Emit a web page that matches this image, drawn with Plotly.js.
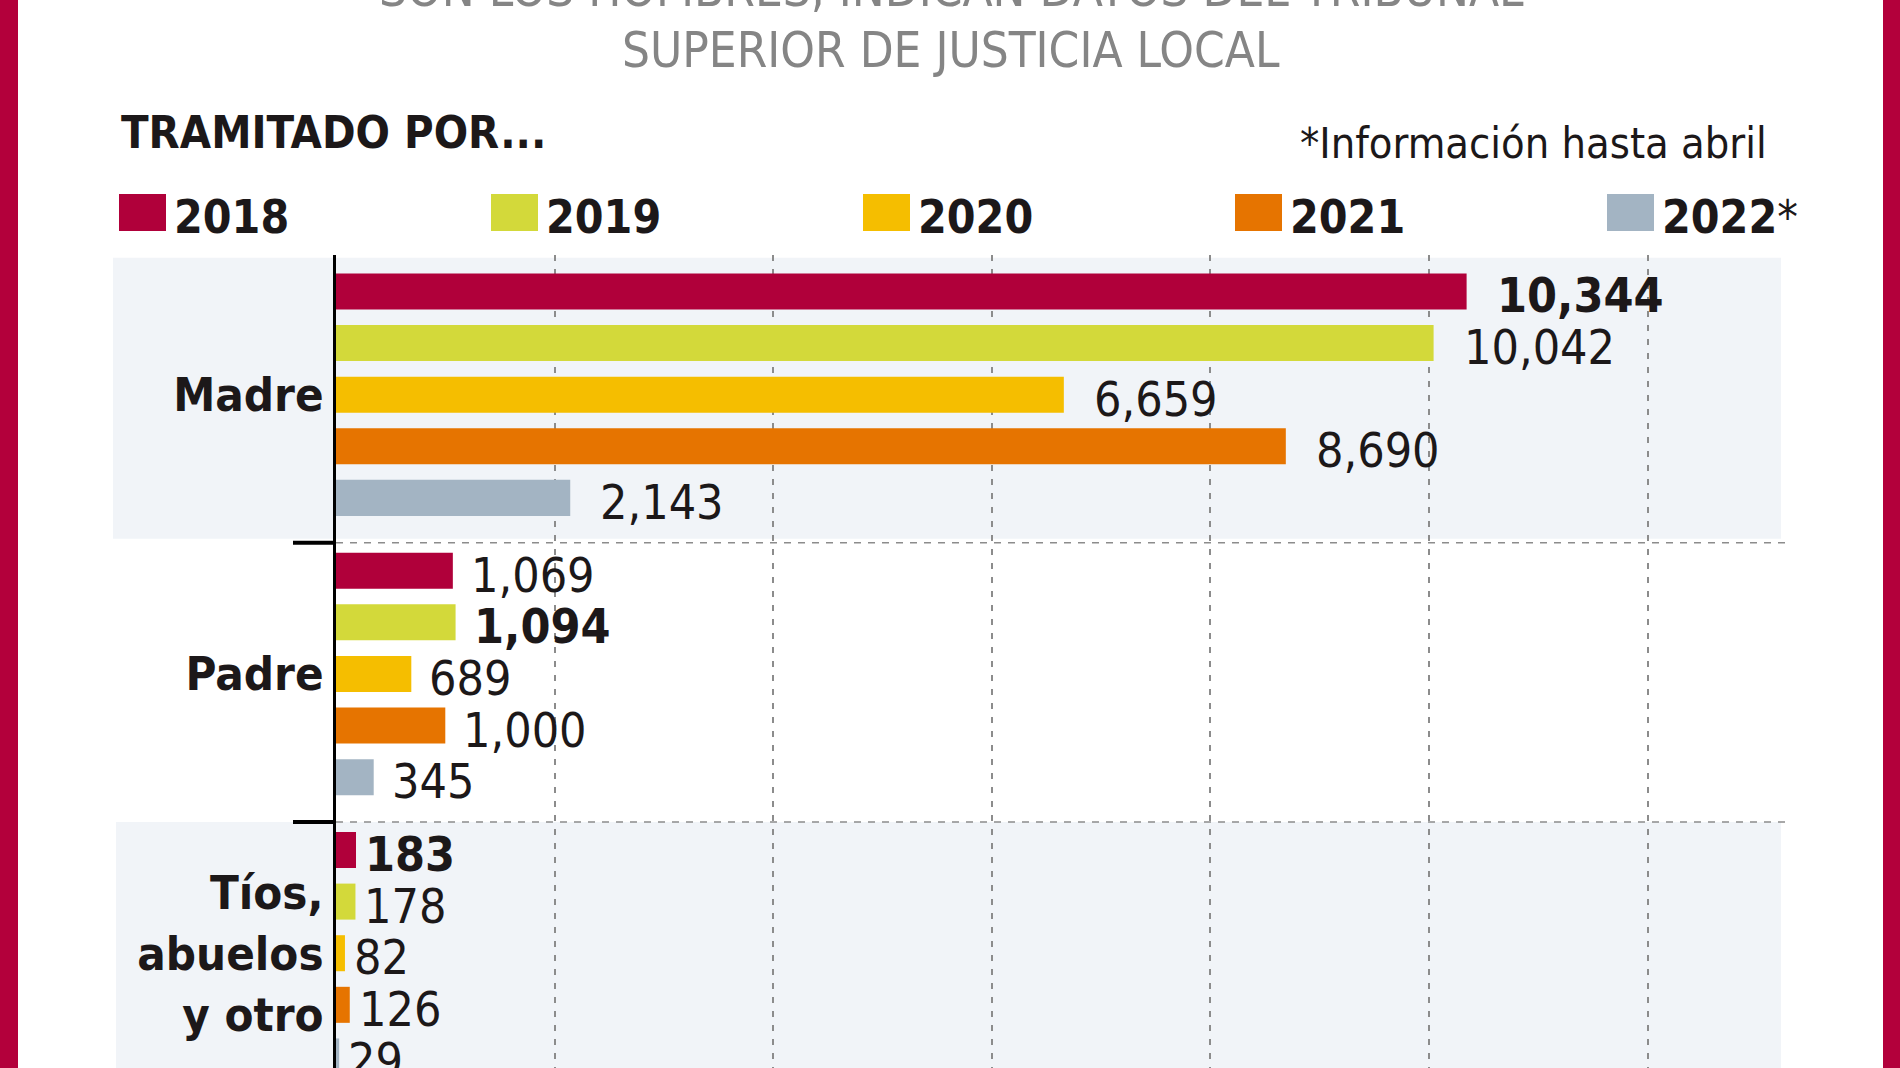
<!DOCTYPE html>
<html>
<head>
<meta charset="utf-8">
<script src="https://cdn.plot.ly/plotly-3.0.1.min.js"></script>
<style>
  html, body { margin: 0; padding: 0; background: #ffffff; }
  #chart { width: 1900px; height: 1068px; }
</style>
</head>
<body>
<div id="chart"></div>
<script>
// ---------------- DATA ----------------
const categories = ['Madre', 'Padre', 'Tíos,<br>abuelos<br>y otro'];
const yearLabels = ['2018', '2019', '2020', '2021', '2022*'];
const v2018 = [10344, 1069, 183];
const v2019 = [10042, 1094, 178];
const v2020 = [6659, 689, 82];
const v2021 = [8690, 1000, 126];
const v2022 = [2143, 345, 29];
const seriesValues = [v2018, v2019, v2020, v2021, v2022];
const titleLine1 = 'SON LOS HOMBRES, INDICAN DATOS DEL TRIBUNAL';
const titleLine2 = 'SUPERIOR DE JUSTICIA LOCAL';
const subtitleText = 'TRAMITADO POR...';
const noteText = '*Información hasta abril';

// ---------------- STYLE ----------------
const colors = ['#b0003a', '#d3d93a', '#f5be00', '#e67400', '#a3b4c3'];
const FONT = '"DejaVu Sans Condensed", "DejaVu Sans", sans-serif';
const INK = '#1c1819';
const GRID = '#8c8c8c';
const BAND = '#f1f4f8';
const BORDER = '#b3003b';
const W = 1900, H = 1068;
const M = { l: 336, r: 115, t: 255, b: 0 };
const PW = W - M.l - M.r, PH = H - M.t - M.b;
const xMax = 13257;
const yRange = [2.411, -0.5];
const bargap = 0.076, bargroupgap = 0.302;
const slot = (1 - bargap) / seriesValues.length;
const labelGap = [28, 16, 7];     // px gap between bar end and value label, per category
const sepOffset = 0.53;           // separator line position after each category
const px2x = px => (px - M.l) / PW;
const py2y = py => 1 - (py - M.t) / PH;
const fmt = v => v.toLocaleString('en-US');

// ---------------- TRACES ----------------
const traces = seriesValues.map((vals, i) => ({
  type: 'bar',
  orientation: 'h',
  name: yearLabels[i],
  x: vals,
  y: categories,
  marker: { color: colors[i], line: { width: 0 } },
  hovertemplate: '%{y}: %{x:,}<extra>' + yearLabels[i] + '</extra>'
}));

// ---------------- ANNOTATIONS ----------------
const annotations = [];
seriesValues.forEach((vals, i) => {
  vals.forEach((v, c) => {
    const catMax = Math.max(...seriesValues.map(s => s[c]));
    const txt = v === catMax ? '<b>' + fmt(v) + '</b>' : fmt(v);
    annotations.push({
      x: v, y: c + (i - (seriesValues.length - 1) / 2) * slot,
      xref: 'x', yref: 'y', text: txt, showarrow: false,
      xanchor: 'left', yanchor: 'middle', xshift: labelGap[c], yshift: -4,
      font: { family: FONT, size: 48, color: INK }
    });
  });
});

// titles
annotations.push({
  xref: 'paper', yref: 'paper', x: px2x(951), y: py2y(-11), xanchor: 'center', yanchor: 'middle',
  text: titleLine1, showarrow: false, font: { family: FONT, size: 49, color: '#858585' }
});
annotations.push({
  xref: 'paper', yref: 'paper', x: px2x(951), y: py2y(50.5), xanchor: 'center', yanchor: 'middle',
  text: titleLine2, showarrow: false, font: { family: FONT, size: 49, color: '#858585' }
});
annotations.push({
  xref: 'paper', yref: 'paper', x: px2x(119), y: py2y(132.5), xanchor: 'left', yanchor: 'middle',
  text: '<b>' + subtitleText + '</b>', showarrow: false, font: { family: FONT, size: 45, color: INK }
});
annotations.push({
  xref: 'paper', yref: 'paper', x: px2x(1769), y: py2y(143.5), xanchor: 'right', yanchor: 'middle',
  text: noteText, showarrow: false, font: { family: FONT, size: 43, color: INK }
});

// legend
const shapes = [];
const legendLeft = 119, legendStep = 372, sqW = 47, sqTop = 194, sqBottom = 231;
yearLabels.forEach((lab, i) => {
  const x0 = legendLeft + i * legendStep;
  shapes.push({
    type: 'rect', xref: 'paper', yref: 'paper', layer: 'above',
    x0: px2x(x0), x1: px2x(x0 + sqW), y0: py2y(sqBottom), y1: py2y(sqTop),
    fillcolor: colors[i], line: { width: 0 }
  });
  const parts = lab.split('*');
  const txt = '<b>' + parts[0] + '</b>' + (lab.includes('*') ? '*' : '');
  annotations.push({
    xref: 'paper', yref: 'paper', x: px2x(x0 + sqW + 6), y: py2y(217), xanchor: 'left', yanchor: 'middle',
    text: txt, showarrow: false, font: { family: FONT, size: 46, color: INK }
  });
});

// ---------------- SHAPES ----------------
// background bands (first and third category)
shapes.unshift(
  { type: 'rect', xref: 'paper', yref: 'y', layer: 'below', x0: px2x(113), x1: px2x(1781), y0: -0.49, y1: sepOffset - 0.014, fillcolor: BAND, line: { width: 0 } },
  { type: 'rect', xref: 'paper', yref: 'y', layer: 'below', x0: px2x(116), x1: px2x(1781), y0: 1 + sepOffset, y1: 3, fillcolor: BAND, line: { width: 0 } }
);
[0, 1].forEach(c => {
  shapes.push({ type: 'line', xref: 'paper', yref: 'y', layer: 'below', x0: 0, x1: 1, y0: c + sepOffset, y1: c + sepOffset, line: { color: GRID, width: 1.5, dash: '7px,7px' } });
  shapes.push({ type: 'line', xref: 'paper', yref: 'y', layer: 'above', x0: px2x(293), x1: px2x(336), y0: c + sepOffset, y1: c + sepOffset, line: { color: '#000000', width: 4 } });
});
// red page borders
shapes.push(
  { type: 'rect', xref: 'paper', yref: 'paper', layer: 'above', x0: px2x(0), x1: px2x(18), y0: py2y(H), y1: py2y(0), fillcolor: BORDER, line: { width: 0 } },
  { type: 'rect', xref: 'paper', yref: 'paper', layer: 'above', x0: px2x(1883), x1: px2x(W), y0: py2y(H), y1: py2y(0), fillcolor: BORDER, line: { width: 0 } }
);

// ---------------- LAYOUT ----------------
const layout = {
  width: W, height: H,
  margin: M,
  paper_bgcolor: '#ffffff',
  plot_bgcolor: 'rgba(0,0,0,0)',
  barmode: 'group',
  bargap: bargap,
  bargroupgap: bargroupgap,
  showlegend: false,
  font: { family: FONT, color: INK },
  xaxis: {
    range: [0, xMax], tick0: 0, dtick: 2000,
    showgrid: true, gridcolor: GRID, gridwidth: 2, griddash: '6px,8px',
    zeroline: false, showline: false, ticks: '', showticklabels: false, fixedrange: true
  },
  yaxis: {
    type: 'category', categoryorder: 'array', categoryarray: categories,
    range: yRange, showgrid: false, zeroline: false,
    showline: true, linecolor: '#000000', linewidth: 3,
    ticks: '', ticklabelstandoff: 0,
    tickfont: { family: FONT, size: 47, color: INK, weight: 'bold' },
    fixedrange: true
  },
  shapes: shapes,
  annotations: annotations
};

Plotly.newPlot('chart', traces, layout, { displayModeBar: false, staticPlot: true });
</script>
</body>
</html>
